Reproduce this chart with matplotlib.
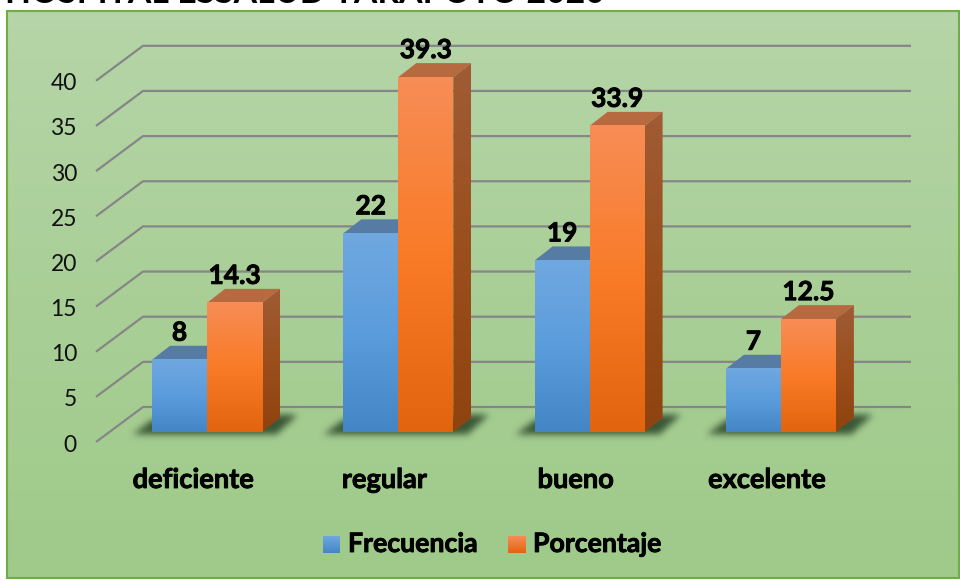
import numpy as np
import matplotlib
matplotlib.use("Agg")
import matplotlib.pyplot as plt
import matplotlib.patheffects as pe
from matplotlib.colors import LinearSegmentedColormap
from matplotlib.patches import Polygon, Rectangle
from matplotlib.path import Path

categories = ["deficiente", "regular", "bueno", "excelente"]
frecuencia = [8, 22, 19, 7]
porcentaje = [14.3, 39.3, 33.9, 12.5]
y_ticks = [0, 5, 10, 15, 20, 25, 30, 35, 40]
title = "HOSPITAL ESSALUD TARAPOTO 2020"

# layout, pixels of the 960x580 picture
W, H = 960, 580
CAT_PX = 191.3
UNIT_PX = 9.03
X0_PX = 207
Y0_PX = 432

plt.rcParams["font.family"] = ["Lato", "DejaVu Sans"]

fig = plt.figure(figsize=(9.6, 5.8), dpi=100)
ax = fig.add_axes([0, 0, 1, 1])
ax.axis("off")
xlim = ((0 - X0_PX) / CAT_PX, (W - X0_PX) / CAT_PX)
ylim = ((Y0_PX - H) / UNIT_PX, Y0_PX / UNIT_PX)
heavy = [pe.withStroke(linewidth=0.6, foreground="black")]


def dx(px):
    return px / CAT_PX


def dy(px):
    return px / UNIT_PX


def px_x(px):
    return (px - X0_PX) / CAT_PX


def px_y(px):
    return (Y0_PX - px) / UNIT_PX


def gradient(x0, x1, y0, y1, colors, clip=None, z=3):
    cmap = LinearSegmentedColormap.from_list("g", colors)
    grad = np.linspace(0, 1, 256).reshape(-1, 1)
    im = ax.imshow(grad, extent=(x0, x1, y0, y1), origin="upper", cmap=cmap,
                   aspect="auto", zorder=z, interpolation="bilinear")
    if clip is not None:
        im.set_clip_path(clip)
    return im


def blurred_shadow(corners, sigma=3.5, strength=0.8):
    # corners are pixel offsets from the bar group's centre on the floor line
    pad = 14
    xs = np.arange(-90 - pad, 100 + pad)
    ys = np.arange(-30 - pad, 8 + pad)
    gx, gy = np.meshgrid(xs, ys)
    mask = Path(corners).contains_points(np.c_[gx.ravel(), gy.ravel()]).reshape(gx.shape).astype(float)
    r = np.arange(-10, 11)
    kernel = np.exp(-r ** 2 / (2 * sigma ** 2))
    kernel /= kernel.sum()
    mask = np.apply_along_axis(lambda m: np.convolve(m, kernel, mode="same"), 0, mask)
    mask = np.apply_along_axis(lambda m: np.convolve(m, kernel, mode="same"), 1, mask)
    rgba = np.zeros(mask.shape + (4,))
    rgba[..., :3] = (0.12, 0.22, 0.12)
    rgba[..., 3] = mask * strength
    return rgba, (xs[0], xs[-1], ys[-1], ys[0])


# panel
gradient(px_x(7), px_x(959), px_y(578), px_y(11), ["#B6D5A8", "#A9CF97", "#9FCA8A"], z=0)
ax.add_patch(Rectangle((px_x(7), px_y(578)), dx(952), dy(567), fill=False,
                       edgecolor="#70AD47", linewidth=1.5, zorder=1))

# walls and floor lines
wall_dx = dx(47)
wall_dy = dy(35)
front_x = px_x(96)
front_y = px_y(442)
right_x = px_x(911)
for t in y_ticks:
    ax.plot([front_x, front_x + wall_dx, right_x],
            [front_y + t, front_y + t + wall_dy, front_y + t + wall_dy],
            color="#868686", linewidth=1.6, zorder=1.5, solid_capstyle="butt")
    ax.text(px_x(77), front_y + t - dy(3), str(t), ha="right", va="center",
            fontsize=16.5, color="#111111", zorder=6)

bar_w = dx(55)
depth_x = dx(18)
depth_y = dy(14)
shadow_img, shadow_ext = blurred_shadow([(-74, 2), (-55, -12), (92, -18), (70, 2)])

for i, (cat, f, p) in enumerate(zip(categories, frecuencia, porcentaje)):
    left = i - bar_w
    right = i + bar_w

    # soft shadow on the floor
    ax.imshow(shadow_img, extent=(i + dx(shadow_ext[0]), i + dx(shadow_ext[1]),
                                  -dy(shadow_ext[2]), -dy(shadow_ext[3])),
              aspect="auto", zorder=2, interpolation="bilinear")

    # blue bar
    ax.add_patch(Polygon([(left, f), (left + depth_x, f + depth_y), (i + depth_x, f + depth_y), (i, f)],
                         closed=True, facecolor="#567CA6", edgecolor="none", zorder=3))
    gradient(left, i, 0, f, ["#70A8E0", "#5B9CDC", "#4485C6"], z=3.1)

    # orange bar
    ax.add_patch(Polygon([(i, p), (i + depth_x, p + depth_y), (right + depth_x, p + depth_y), (right, p)],
                         closed=True, facecolor="#B76A40", edgecolor="none", zorder=3.2))
    side = Polygon([(right, 0), (right + depth_x, depth_y), (right + depth_x, p + depth_y), (right, p)],
                   closed=True, facecolor="none", edgecolor="none", transform=ax.transData)
    ax.add_patch(side)
    gradient(right, right + depth_x, 0, p + depth_y, ["#A05C36", "#9A4F1C", "#8F430F"], clip=side, z=3.2)
    gradient(i, right, 0, p, ["#F78D56", "#F97B27", "#E2640F"], z=3.3)

    # value labels
    ax.text(i - bar_w / 2, f + dy(27), str(f), ha="center", va="center",
            fontsize=19, fontweight="bold", color="black", zorder=6, path_effects=heavy)
    ax.text(i + bar_w / 2, p + dy(27), str(p), ha="center", va="center",
            fontsize=19, fontweight="bold", color="black", zorder=6, path_effects=heavy)

    # category labels
    ax.text(i - dx(14), px_y(480), cat, ha="center", va="center",
            fontsize=19.6, fontweight="bold", color="black", zorder=6, path_effects=heavy)

# legend
gradient(px_x(323), px_x(340), px_y(553), px_y(536), ["#70A8E0", "#4485C6"], z=5)
gradient(px_x(508), px_x(526), px_y(553), px_y(536), ["#F78D56", "#E2640F"], z=5)
ax.text(px_x(348), px_y(544), "Frecuencia", ha="left", va="center",
        fontsize=19.2, fontweight="bold", color="black", zorder=6, path_effects=heavy)
ax.text(px_x(533), px_y(544), "Porcentaje", ha="left", va="center",
        fontsize=19.2, fontweight="bold", color="black", zorder=6, path_effects=heavy)

# title, cut off by the top of the picture in the source
ax.text(px_x(5), px_y(3), title, ha="left", va="baseline",
        fontsize=24.3, fontweight="bold", color="black", zorder=6)

ax.set_xlim(xlim)
ax.set_ylim(ylim)
fig.savefig("out.png", dpi=100)
